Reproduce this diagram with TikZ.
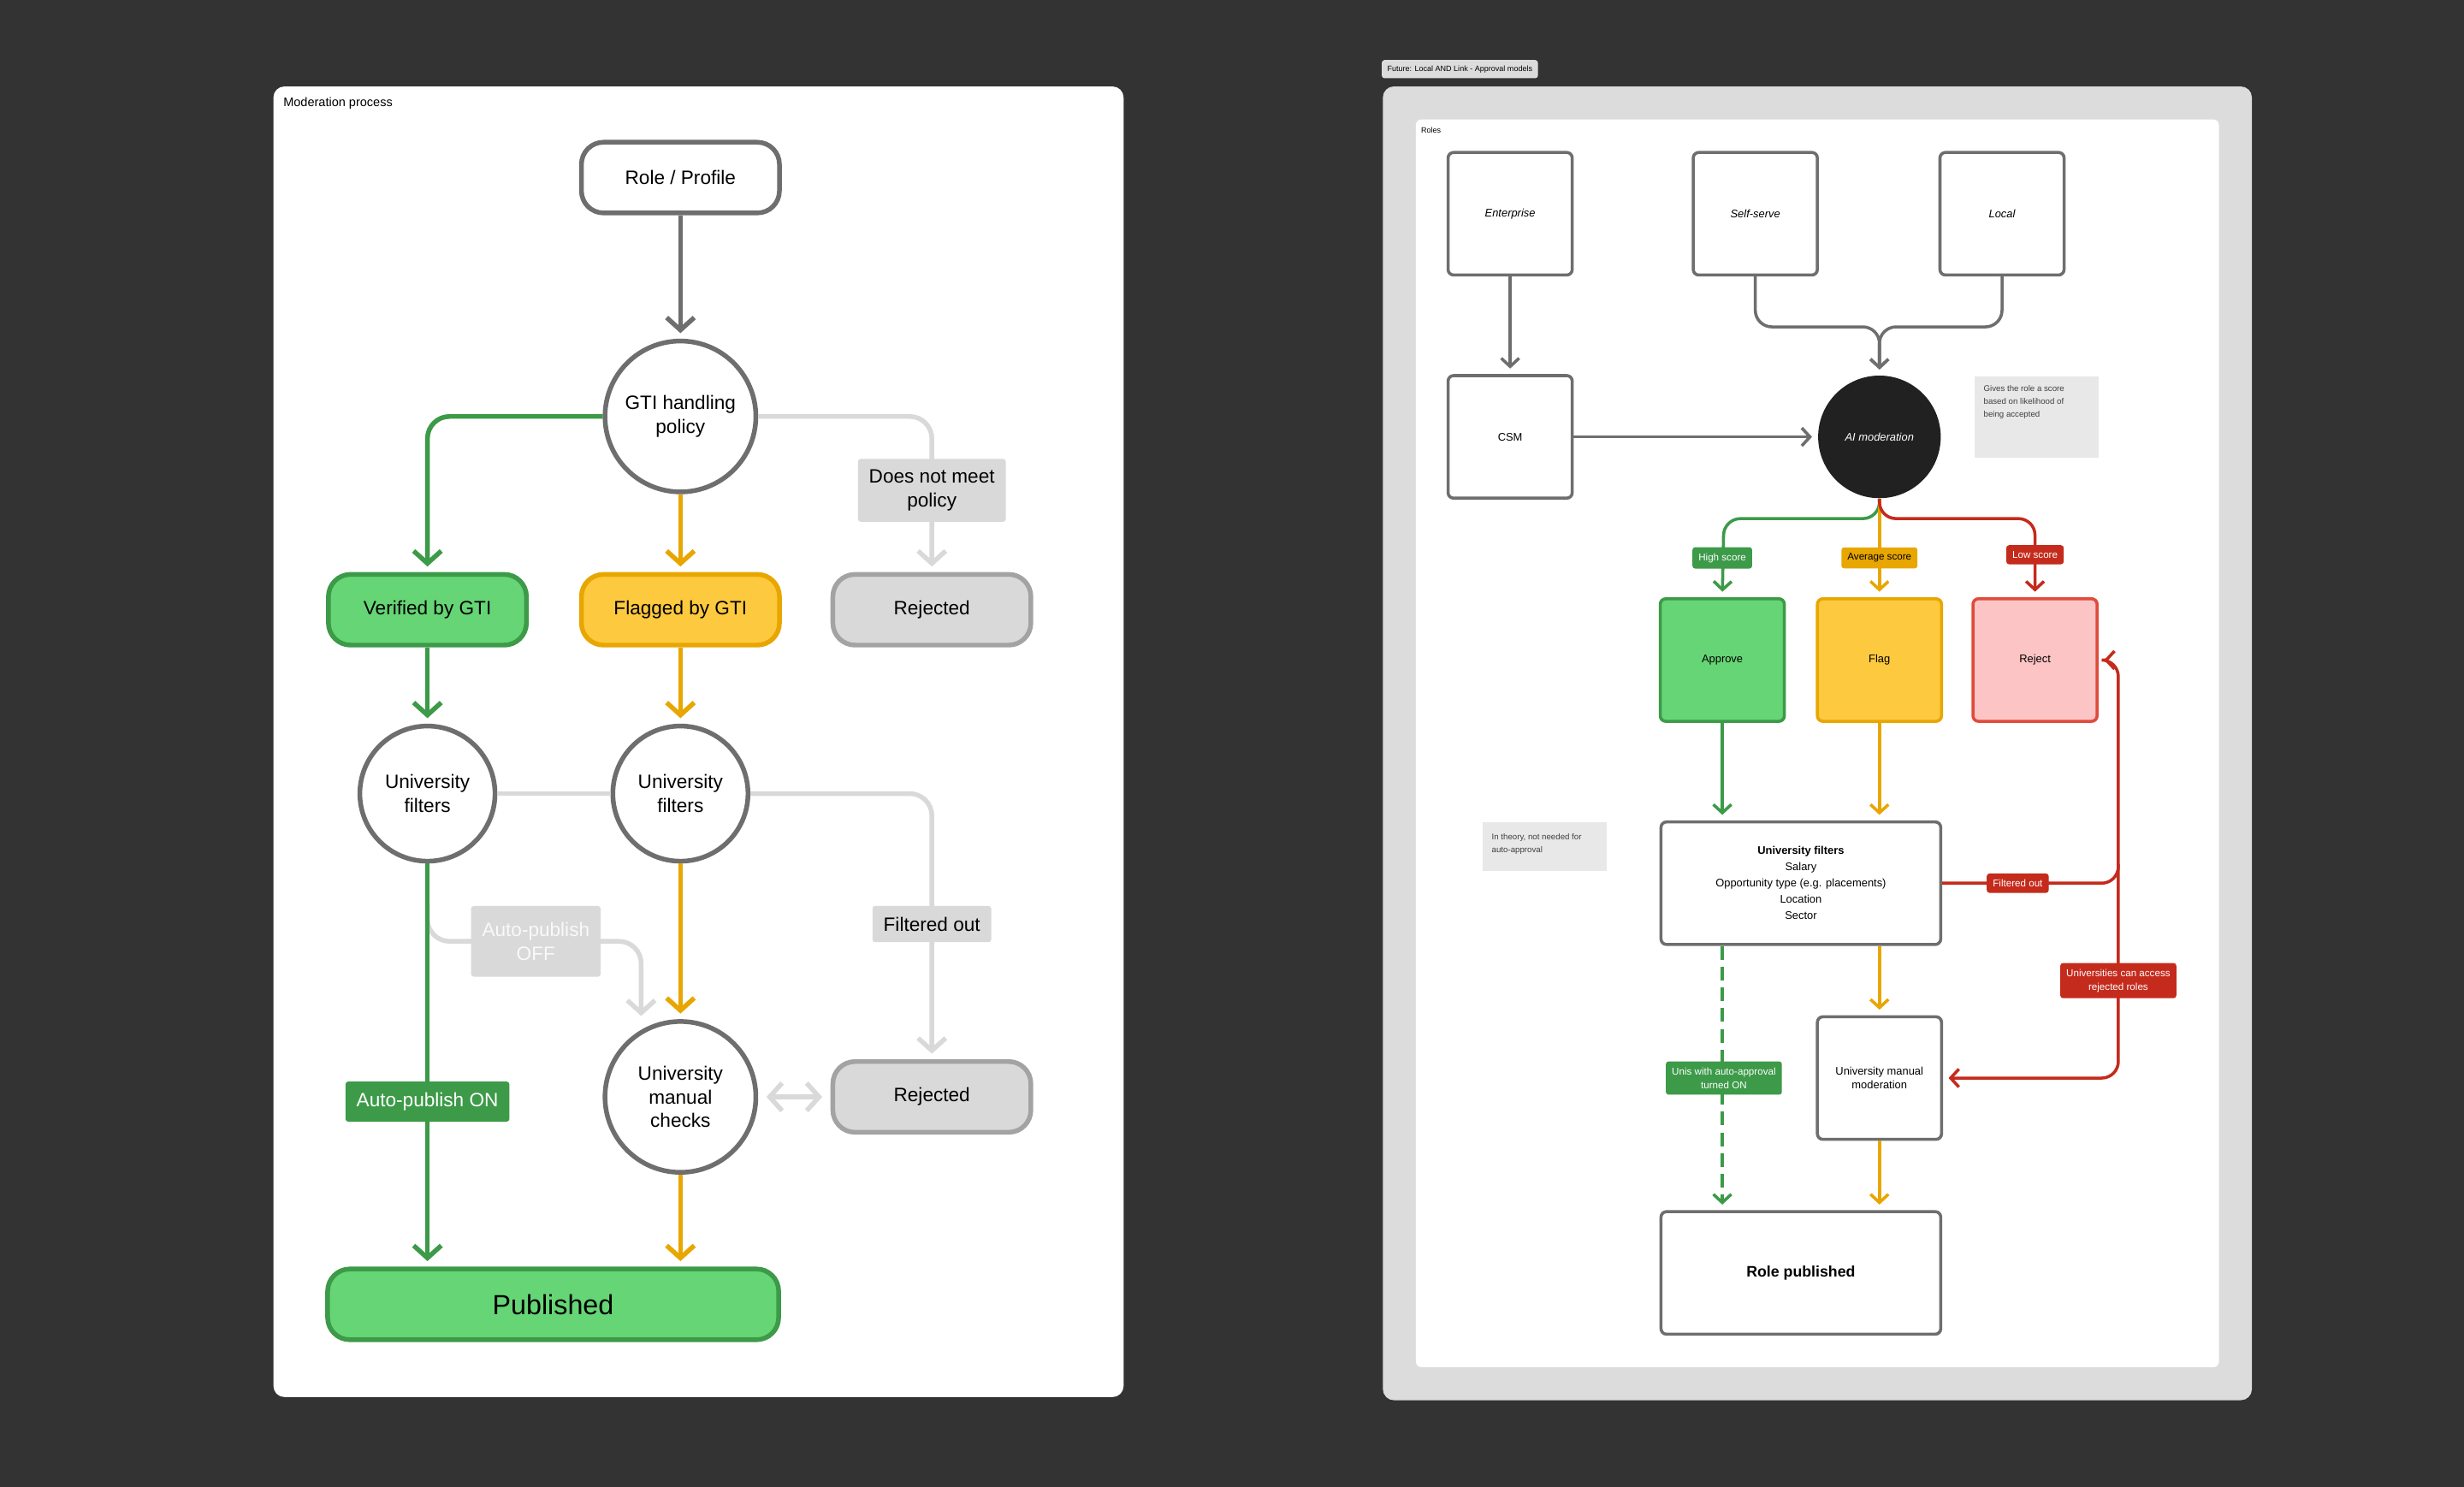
\documentclass[tikz,border=0pt]{standalone}
\usepackage{fontspec}
\setmainfont{Liberation Sans}
\usetikzlibrary{arrows.meta}
\definecolor{bg}{HTML}{333333}
\definecolor{gfill}{HTML}{66D575}
\definecolor{gline}{HTML}{3C9A48}
\definecolor{yfill}{HTML}{FDC93F}
\definecolor{yline}{HTML}{E8A600}
\definecolor{gyfill}{HTML}{D9D9D9}
\definecolor{gyline}{HTML}{A3A3A3}
\definecolor{dk}{HTML}{6E6E6E}
\definecolor{rline}{HTML}{C42B1C}
\definecolor{rfill}{HTML}{FCC4C4}
\definecolor{rstroke}{HTML}{E04B3A}
\definecolor{panel}{HTML}{DCDCDC}
\definecolor{note}{HTML}{E8E8E8}
\begin{document}
\begin{tikzpicture}[x=0.2mm,y=-0.2mm,
  L/.style={line width=1.7pt,rounded corners=8pt,-{Straight Barb[length=4.5pt,width=10pt]},shorten >=2pt},
  R/.style={line width=1.1pt,rounded corners=6pt,-{Straight Barb[length=3pt,width=6.5pt]},shorten >=2pt},
  lt/.style={font=\fontsize{7}{8.5}\selectfont,align=center,inner sep=0pt},
  pill/.style={lt,rounded corners=8pt,line width=1.7pt,minimum width=126*0.2mm,minimum height=45*0.2mm},
  circ/.style={lt,circle,draw=dk,fill=white,line width=1.7pt},
  lab/.style={lt,fill=gyfill,inner sep=4pt,rounded corners=1pt},
  rb/.style={font=\fontsize{4}{5}\selectfont,align=center,draw=dk,fill=white,line width=1.1pt,rounded corners=2pt,minimum width=79*0.2mm,minimum height=78*0.2mm,inner sep=0pt},
  tl/.style={font=\fontsize{3.6}{5}\selectfont,align=center,text=white,inner sep=2.2pt,rounded corners=1pt}]
\fill[bg] (0,0) rectangle (1568,946);
\useasboundingbox (0,0) rectangle (1568,946);
% ---------- left panel
\fill[white,rounded corners=4pt] (174,55) rectangle (715,889);
\node[anchor=west,font=\fontsize{4.5}{5}\selectfont,inner sep=0] (t1) at (180,66) {Moderation process};
\node[pill,draw=dk,fill=white] (role) at (433,113) {Role / Profile};
\node[circ,minimum size=96*0.2mm] (gti) at (433,265) {GTI handling\\policy};
\node[pill,draw=gline,fill=gfill] (ver) at (272,388) {Verified by GTI};
\node[pill,draw=yline,fill=yfill] (flag) at (433,388) {Flagged by GTI};
\node[pill,draw=gyline,fill=gyfill] (rej1) at (593,388) {Rejected};
\node[circ,minimum size=86*0.2mm] (uf1) at (272,505) {University\\filters};
\node[circ,minimum size=86*0.2mm] (uf2) at (433,505) {University\\filters};
\node[circ,minimum size=96*0.2mm] (umc) at (433,698) {University\\manual\\checks};
\node[pill,draw=gyline,fill=gyfill] (rej2) at (593,698) {Rejected};
\node[pill,draw=gline,fill=gfill,minimum width=287*0.2mm,font=\fontsize{10}{12}\selectfont] (pub) at (352,830) {Published};
\coordinate (c1) at (593,265);
\coordinate (c2) at (593,505);
\draw[L,gline] (gti.west) -| (ver.north);
\draw[L,yline] (gti.south) -- (flag.north);
\draw[L,gyfill] (gti.east) -- (c1) -- (rej1.north);
\node[lab] (dnm) at (593,312) {Does not meet\\policy};
\draw[L,dk] (role.south) -- (gti.north);
\draw[L,gline] (ver.south) -- (uf1.north);
\draw[L,yline] (flag.south) -- (uf2.north);
\draw[line width=1.7pt,gyfill] (uf1.east) -- (uf2.west);
\draw[L,gyfill] (uf2.east) -- (c2) -- (rej2.north);
\node[lab] (fo) at (593,588) {Filtered out};
\coordinate (b1) at (272,575);
\coordinate (b2) at (272,599);
\coordinate (b3) at (408,599);
\coordinate (b4) at (408,650);
\draw[L,gyfill] (b1) -- (b2) -- (b3) -- (b4);
\node[lab,text=white!95!gray,minimum width=81*0.2mm,minimum height=45*0.2mm] (apoff) at (341,599) {Auto-publish\\OFF};
\draw[L,gline] (uf1.south) -- (uf1.south |- pub.north);
\node[lab,fill=gline,text=white] (apon) at (272,701) {Auto-publish ON};
\draw[L,yline] (uf2.south) -- (umc.north);
\draw[L,yline] (umc.south) -- (umc.south |- pub.north);
\draw[line width=1.7pt,gyfill,{Straight Barb[length=4.5pt,width=10pt]}-{Straight Barb[length=4.5pt,width=10pt]},shorten <=3pt,shorten >=3pt] (umc.east) -- (rej2.west);
% ---------- right panel
\node[fill=panel,font=\fontsize{2.8}{3}\selectfont,inner sep=2pt,rounded corners=1pt] (ttl) at (929,44) {Future: Local AND Link - Approval models};
\fill[panel,rounded corners=4pt] (880,55) rectangle (1433,891);
\fill[white,rounded corners=2pt] (901,76) rectangle (1412,870);
\node[anchor=west,font=\fontsize{2.8}{3}\selectfont,inner sep=0] (roles) at (904,83) {Roles};
\node[rb,font=\fontsize{4}{5}\itshape] (ent) at (961,136) {Enterprise};
\node[rb,font=\fontsize{4}{5}\itshape] (ss) at (1117,136) {Self-serve};
\node[rb,font=\fontsize{4}{5}\itshape] (loc) at (1274,136) {Local};
\node[rb] (csm) at (961,278) {CSM};
\node[circle,fill=black!87,minimum size=78*0.2mm,text=white,font=\fontsize{4}{5}\itshape\selectfont] (ai) at (1196,278) {AI moderation};
\node[fill=note,minimum width=79*0.2mm,minimum height=52*0.2mm,font=\fontsize{3}{4.6}\selectfont,align=left,text=black!75,anchor=north west,inner sep=0] (n1) at (1256,239) {};
\node[anchor=north west,font=\fontsize{3}{4.6}\selectfont,align=left,text=black!75,inner sep=0] (n1t) at (1262,245) {Gives the role a score\\based on likelihood of\\being accepted};
\node[rb,draw=gline,fill=gfill] (app) at (1096,420) {Approve};
\node[rb,draw=yline,fill=yfill] (flg) at (1196,420) {Flag};
\node[rb,draw=rstroke,fill=rfill] (rej) at (1295,420) {Reject};
\node[rb,minimum width=178*0.2mm,font=\fontsize{4}{5.9}\selectfont] (uf) at (1146,562) {\textbf{University filters}\\Salary\\Opportunity type (e.g. placements)\\Location\\Sector};
\node[fill=note,minimum width=79*0.2mm,minimum height=31*0.2mm,anchor=north west,inner sep=0] (n2) at (943,523) {};
\node[anchor=north west,font=\fontsize{3}{4.6}\selectfont,align=left,text=black!75,inner sep=0] (n2t) at (949,530) {In theory, not needed for\\auto-approval};
\node[rb] (umm) at (1196,686) {University manual\\moderation};
\node[rb,minimum width=178*0.2mm,font=\fontsize{5.5}{6}\bfseries\selectfont] (rp) at (1146,810) {Role published};
\coordinate (j) at (1196,208);
\draw[R,dk] (ent.south) -- (csm.north);
\draw[R,dk] (ss.south) |- (j) -- (ai.north);
\draw[R,dk] (loc.south) |- (j) -- (ai.north);
\draw[R,dk] (csm.east) -- (ai.west);
\coordinate (a1) at (1097,330);
\coordinate (a2) at (1295,330);
\draw[R,gline] (ai.south) |- (a1) -- (app.north);
\draw[R,yline] (ai.south) -- (flg.north);
\draw[R,rline] (ai.south) |- (a2) -- (rej.north);
\node[tl,fill=gline] (hs) at (1096,355) {High score};
\node[tl,fill=yline,text=black] (as) at (1196,355) {Average score};
\node[tl,fill=rline] (ls) at (1295,353) {Low score};
\draw[R,gline] (app.south) -- (app.south |- uf.north);
\draw[R,yline] (flg.south) -- (flg.south |- uf.north);
\coordinate (r1) at (1348,420);
\coordinate (r2) at (1348,686);
\coordinate (r3) at (1348,562);
\draw[line width=1.1pt,rline,rounded corners=6pt,{Straight Barb[length=3pt,width=6.5pt]}-{Straight Barb[length=3pt,width=6.5pt]},shorten <=2pt,shorten >=2pt] (rej.east) -- (r1) -- (r2) -- (umm.east);
\draw[line width=1.1pt,rline,rounded corners=6pt] (uf.east) -- (r3) -- (1348,550);
\node[tl,fill=rline] (fo2) at (1284,562) {Filtered out};
\node[tl,fill=rline] (uca) at (1348,624) {Universities can access\\rejected roles};
\draw[R,gline,dashed,dash pattern=on 5pt off 2.5pt] (uf.south -| app.south) -- (app.south |- rp.north);
\node[tl,fill=gline] (una) at (1097,686) {Unis with auto-approval\\turned ON};
\draw[R,yline] (uf.south -| flg.south) -- (umm.north);
\draw[R,yline] (umm.south) -- (umm.south |- rp.north);
\end{tikzpicture}
\end{document}
